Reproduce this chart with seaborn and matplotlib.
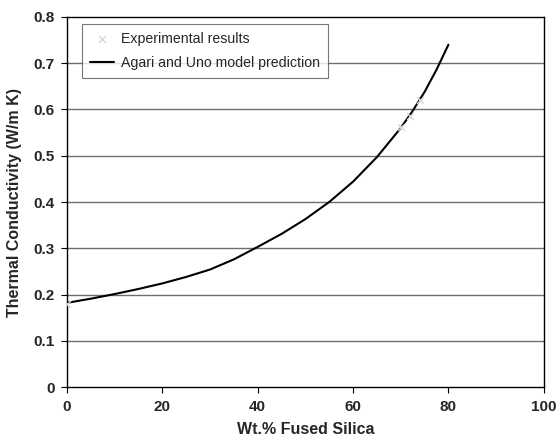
import matplotlib
matplotlib.use("Agg")
import matplotlib.pyplot as plt
import seaborn as sns
import pandas as pd

# Model curve (Agari and Uno)
model_x = [0, 5, 10, 15, 20, 25, 30, 35, 40, 45, 50, 55, 60, 65, 70, 72.5, 75, 77.5, 80]
model_y = [0.182, 0.191, 0.201, 0.212, 0.224, 0.238, 0.254, 0.276, 0.303, 0.331, 0.363,
           0.400, 0.444, 0.497, 0.560, 0.597, 0.638, 0.686, 0.740]

# Experimental results
exp_x = [0, 70, 72, 74]
exp_y = [0.18, 0.562, 0.586, 0.62]

x_ticks = [0, 20, 40, 60, 80, 100]
y_ticks = [0, 0.1, 0.2, 0.3, 0.4, 0.5, 0.6, 0.7, 0.8]
y_ticklabels = ["0", "0.1", "0.2", "0.3", "0.4", "0.5", "0.6", "0.7", "0.8"]

sns.set_style("white")
plt.rcParams['font.family'] = ['Liberation Sans', 'DejaVu Sans']

fig = plt.figure(figsize=(5.56, 4.41), dpi=100)
ax = fig.add_axes([0.1205, 0.1224, 0.8575, 0.8391])

for yv in y_ticks[1:-1]:
    ax.axhline(yv, color="#6e6e6e", lw=1.0, zorder=1)

model_df = pd.DataFrame({"x": model_x, "y": model_y})
exp_df = pd.DataFrame({"x": exp_x, "y": exp_y})

sns.scatterplot(data=exp_df, x="x", y="y", ax=ax, marker="x", color="#d8d8d8",
                s=25, linewidth=1.0, label="Experimental results", zorder=3)
sns.lineplot(data=model_df, x="x", y="y", ax=ax, color="black", lw=1.5,
             label="Agari and Uno model prediction", zorder=2)

ax.set_xlim(0, 100)
ax.set_ylim(0, 0.8)
ax.set_xticks(x_ticks)
ax.set_xticklabels([str(t) for t in x_ticks])
ax.set_yticks(y_ticks)
ax.set_yticklabels(y_ticklabels)
ax.tick_params(axis="both", direction="out", length=4, width=0.8, color="black",
               labelsize=11, pad=5, bottom=True, left=True)
for lab in ax.get_xticklabels() + ax.get_yticklabels():
    lab.set_fontweight("bold")

for sp in ax.spines.values():
    sp.set_color("black")
    sp.set_linewidth(1.0)

ax.set_xlabel("Wt.% Fused Silica", fontsize=11.5, fontweight="bold", labelpad=6)
ax.set_ylabel("Thermal Conductivity (W/m K)", fontsize=11.5, fontweight="bold", labelpad=8)

leg = ax.legend(loc="upper left", bbox_to_anchor=(0.031, 0.981), borderaxespad=0,
                frameon=True, fancybox=False, edgecolor="#555555", fontsize=10.2,
                handlelength=1.7, borderpad=0.55, labelspacing=0.75, handletextpad=0.5)
leg.get_frame().set_linewidth(0.8)

fig.savefig("out.png", dpi=100)
